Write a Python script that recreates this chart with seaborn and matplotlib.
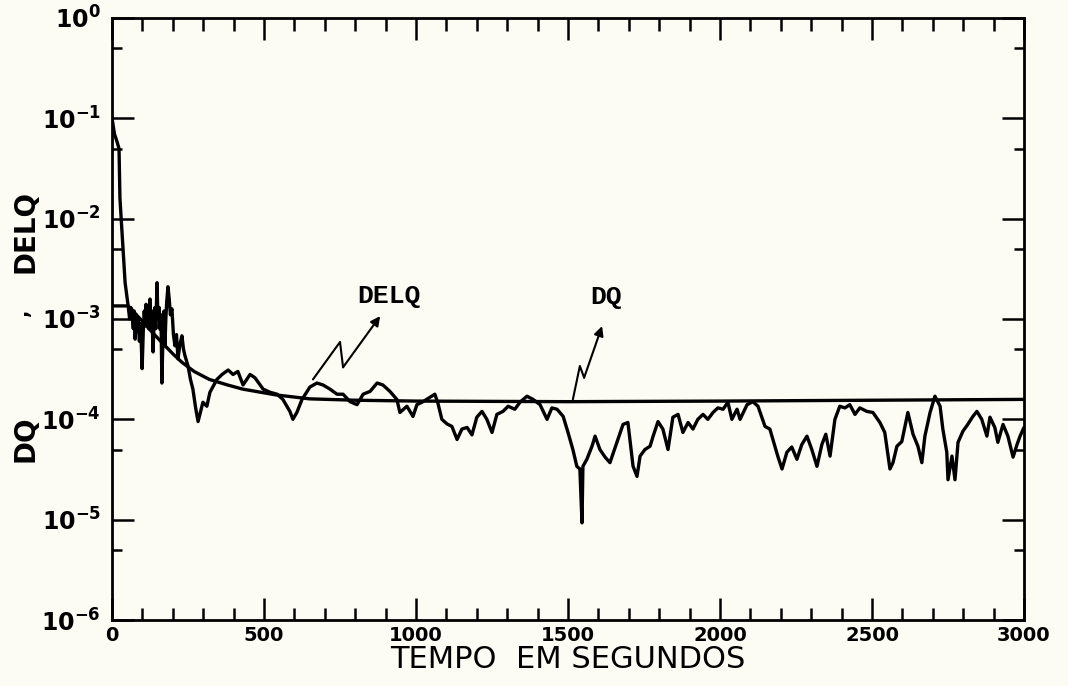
import matplotlib
matplotlib.use("Agg")
import matplotlib.pyplot as plt
import matplotlib.ticker as mticker
import seaborn as sns
import pandas as pd

# ---------------- data ----------------
delq_t = [0, 8, 16, 23, 26, 36, 43, 53, 58, 62, 66, 70, 73, 76, 80, 83, 86, 90, 94, 99,
          103, 106, 109, 112, 115, 118, 121, 125, 128, 131, 135, 138, 141, 144, 148, 151,
          155, 158, 161, 164, 168, 171, 174, 177, 180, 184, 188, 192, 197, 202, 207, 212,
          217, 223, 230, 235, 240, 250, 258, 266, 275, 283, 299, 312, 322, 345, 362, 382,
          398, 414, 431, 454, 470, 497, 520, 543, 562, 585, 595, 608, 625, 651, 674, 694,
          717, 740, 760, 783, 806, 826, 849, 872, 891, 914, 937, 947, 970, 990, 1003, 1023,
          1046, 1062, 1072, 1085, 1102, 1118, 1135, 1151, 1168, 1184, 1200, 1217, 1233,
          1250, 1266, 1286, 1303, 1325, 1342, 1365, 1385, 1408, 1431, 1447, 1464, 1484,
          1500, 1516, 1529, 1539, 1546, 1549, 1562, 1579, 1589, 1605, 1622, 1638, 1661,
          1681, 1697, 1714, 1727, 1737, 1753, 1770, 1780, 1796, 1812, 1829, 1845, 1862,
          1878, 1895, 1911, 1927, 1944, 1960, 1977, 1993, 2010, 2026, 2039, 2056, 2066,
          2089, 2108, 2125, 2148, 2164, 2174, 2191, 2204, 2220, 2236, 2253, 2269, 2286,
          2302, 2319, 2335, 2348, 2362, 2378, 2394, 2411, 2427, 2444, 2460, 2483, 2503,
          2526, 2542, 2559, 2569, 2582, 2598, 2618, 2635, 2651, 2664, 2674, 2691, 2707,
          2724, 2733, 2746, 2750, 2763, 2773, 2783, 2799, 2815, 2832, 2845, 2861, 2878,
          2888, 2904, 2914, 2931, 2947, 2964, 2977, 2987, 3000]
delq_v = [1.0e-1, 7.0e-2, 5.9e-2, 5.0e-2, 1.6e-2, 5.0e-3, 2.3e-3, 1.35e-3, 1.0e-3, 1.3e-3,
          1.07e-3, 8.0e-4, 1.2e-3, 6.3e-4, 1.1e-3, 7.5e-4, 1.0e-3, 6.0e-4, 9.0e-4, 3.2e-4,
          8.0e-4, 1.2e-3, 8.5e-4, 1.4e-3, 9.0e-4, 1.26e-3, 8.0e-4, 1.58e-3, 9.0e-4, 1.2e-3,
          4.7e-4, 9.0e-4, 1.3e-3, 8.0e-4, 2.3e-3, 1.0e-3, 1.3e-3, 7.9e-4, 1.1e-3, 2.3e-4,
          8.0e-4, 1.2e-3, 5.4e-4, 1.0e-3, 1.5e-3, 2.1e-3, 1.6e-3, 1.1e-3, 1.26e-3, 7.0e-4,
          5.4e-4, 7.0e-4, 4.0e-4, 5.5e-4, 6.8e-4, 5.0e-4, 4.3e-4, 3.4e-4, 2.5e-4, 2.0e-4,
          1.3e-4, 0.95e-4, 1.48e-4, 1.35e-4, 1.86e-4, 2.5e-4, 2.8e-4, 3.1e-4, 2.8e-4, 3.0e-4,
          2.2e-4, 2.8e-4, 2.6e-4, 2.0e-4, 1.86e-4, 1.78e-4, 1.58e-4, 1.2e-4, 1.0e-4, 1.17e-4,
          1.58e-4, 2.1e-4, 2.3e-4, 2.2e-4, 2.0e-4, 1.78e-4, 1.78e-4, 1.5e-4, 1.4e-4, 1.78e-4,
          1.9e-4, 2.3e-4, 2.2e-4, 1.9e-4, 1.58e-4, 1.17e-4, 1.35e-4, 1.07e-4, 1.4e-4, 1.5e-4,
          1.66e-4, 1.78e-4, 1.45e-4, 1.0e-4, 0.9e-4, 0.85e-4, 0.63e-4, 0.8e-4, 0.83e-4,
          0.7e-4, 1.05e-4, 1.2e-4, 1.0e-4, 0.74e-4, 1.12e-4, 1.2e-4, 1.35e-4, 1.26e-4,
          1.48e-4, 1.7e-4, 1.58e-4, 1.4e-4, 1.0e-4, 1.3e-4, 1.26e-4, 1.07e-4, 0.74e-4,
          0.5e-4, 0.34e-4, 0.32e-4, 0.093e-4, 0.34e-4, 0.4e-4, 0.54e-4, 0.68e-4, 0.5e-4,
          0.42e-4, 0.37e-4, 0.59e-4, 0.89e-4, 0.93e-4, 0.34e-4, 0.27e-4, 0.43e-4, 0.5e-4,
          0.54e-4, 0.68e-4, 0.95e-4, 0.8e-4, 0.5e-4, 1.05e-4, 1.12e-4, 0.74e-4, 0.93e-4,
          0.8e-4, 1.0e-4, 1.12e-4, 1.0e-4, 1.17e-4, 1.3e-4, 1.26e-4, 1.48e-4, 1.0e-4,
          1.26e-4, 1.0e-4, 1.4e-4, 1.5e-4, 1.35e-4, 0.85e-4, 0.8e-4, 0.63e-4, 0.42e-4,
          0.32e-4, 0.47e-4, 0.53e-4, 0.4e-4, 0.56e-4, 0.68e-4, 0.5e-4, 0.34e-4, 0.56e-4,
          0.71e-4, 0.43e-4, 1.0e-4, 1.35e-4, 1.3e-4, 1.4e-4, 1.12e-4, 1.3e-4, 1.2e-4,
          1.17e-4, 0.93e-4, 0.74e-4, 0.32e-4, 0.37e-4, 0.54e-4, 0.6e-4, 1.17e-4, 0.71e-4,
          0.54e-4, 0.37e-4, 0.68e-4, 1.17e-4, 1.7e-4, 1.35e-4, 0.8e-4, 0.47e-4, 0.25e-4,
          0.43e-4, 0.25e-4, 0.59e-4, 0.76e-4, 0.89e-4, 1.07e-4, 1.2e-4, 1.0e-4, 0.68e-4,
          1.05e-4, 0.83e-4, 0.59e-4, 0.89e-4, 0.68e-4, 0.42e-4, 0.56e-4, 0.68e-4, 0.83e-4]

dq_t = [0, 50, 60, 80, 100, 130, 160, 200, 230, 270, 320, 380, 430, 540, 650, 800,
        1000, 1500, 2000, 2500, 3000]
dq_v = [1.35e-3, 1.35e-3, 1.3e-3, 1.1e-3, 9.5e-4, 7.5e-4, 6.0e-4, 4.5e-4, 3.7e-4,
        3.0e-4, 2.5e-4, 2.2e-4, 2.0e-4, 1.75e-4, 1.6e-4, 1.55e-4, 1.52e-4, 1.5e-4,
        1.52e-4, 1.55e-4, 1.58e-4]

x_ticks = [0, 500, 1000, 1500, 2000, 2500, 3000]
y_ticks = [1e-6, 1e-5, 1e-4, 1e-3, 1e-2, 1e-1, 1e0]
y_ticklabels = [r"$\mathbf{10^{-6}}$", r"$\mathbf{10^{-5}}$", r"$\mathbf{10^{-4}}$",
                r"$\mathbf{10^{-3}}$", r"$\mathbf{10^{-2}}$", r"$\mathbf{10^{-1}}$",
                r"$\mathbf{10^{0}}$"]

# ---------------- plot ----------------
sns.set_style("ticks")
plt.rcParams["font.family"] = ["DejaVu Sans"]
plt.rcParams["text.color"] = "black"
plt.rcParams["axes.labelcolor"] = "black"
plt.rcParams["xtick.color"] = "black"
plt.rcParams["ytick.color"] = "black"

bg = "#fcfcf4"
fig = plt.figure(figsize=(10.68, 6.86), dpi=100, facecolor=bg)
ax = fig.add_axes([0.1049, 0.0962, 0.8539, 0.8776])
ax.set_facecolor(bg)

df_delq = pd.DataFrame({"t": delq_t, "v": delq_v})
df_dq = pd.DataFrame({"t": dq_t, "v": dq_v})
sns.lineplot(data=df_delq, x="t", y="v", ax=ax, color="black", lw=2.4,
             sort=False, estimator=None)
sns.lineplot(data=df_dq, x="t", y="v", ax=ax, color="black", lw=2.4,
             sort=False, estimator=None)

ax.set_yscale("log")
ax.set_xlim(0, 3000)
ax.set_ylim(1e-6, 1e0)

ax.xaxis.set_major_locator(mticker.FixedLocator(x_ticks))
ax.xaxis.set_minor_locator(mticker.MultipleLocator(100))
ax.set_xticklabels([str(v) for v in x_ticks], fontsize=14, fontweight="bold",
                   color="black")
ax.yaxis.set_major_locator(mticker.FixedLocator(y_ticks))
ax.yaxis.set_minor_locator(mticker.LogLocator(base=10, subs=[5]))
ax.yaxis.set_minor_formatter(mticker.NullFormatter())
ax.set_yticklabels(y_ticklabels, fontsize=17, color="black")

ax.tick_params(which="both", direction="in", top=True, right=True, width=1.8,
               color="black", labelcolor="black")
ax.tick_params(axis="x", which="major", length=16, pad=4)
ax.tick_params(axis="x", which="minor", length=9)
ax.tick_params(axis="y", which="major", length=16, pad=8)
ax.tick_params(axis="y", which="minor", length=7)

for s in ax.spines.values():
    s.set_linewidth(2.0)
    s.set_color("black")

ax.set_xlabel("TEMPO  EM SEGUNDOS", fontsize=22, labelpad=0, color="black")
ax.set_ylabel("")

# y-axis label pieces
fig.text(0.024, 0.36, "DQ", rotation=90, fontsize=20, fontweight="bold",
         ha="center", va="center", color="black")
fig.text(0.021, 0.545, ",", rotation=90, fontsize=14, fontweight="bold",
         ha="center", va="center", color="black")
fig.text(0.024, 0.662, "DELQ", rotation=90, fontsize=20, fontweight="bold",
         ha="center", va="center", color="black")

# annotations with lightning-style arrows
mono = ["Liberation Mono", "DejaVu Sans Mono"]
ax.text(910, 1.3e-3, "DELQ", family=mono, fontsize=19, fontweight="bold",
        ha="center", va="bottom", color="black")
ax.plot([661, 750, 760], [2.5e-4, 5.9e-4, 3.3e-4], color="black", lw=1.5)
ax.annotate("", xy=(882, 1.07e-3), xytext=(760, 3.3e-4),
            arrowprops=dict(arrowstyle="-|>", color="black", lw=1.5,
                            mutation_scale=14, shrinkA=0, shrinkB=0))

ax.text(1625, 1.25e-3, "DQ", family=mono, fontsize=19, fontweight="bold",
        ha="center", va="bottom", color="black")
ax.plot([1516, 1539, 1553], [1.58e-4, 3.4e-4, 2.6e-4], color="black", lw=1.5)
ax.annotate("", xy=(1612, 8.5e-4), xytext=(1553, 2.6e-4),
            arrowprops=dict(arrowstyle="-|>", color="black", lw=1.5,
                            mutation_scale=14, shrinkA=0, shrinkB=0))

fig.savefig("out.png", dpi=100, facecolor=bg)
